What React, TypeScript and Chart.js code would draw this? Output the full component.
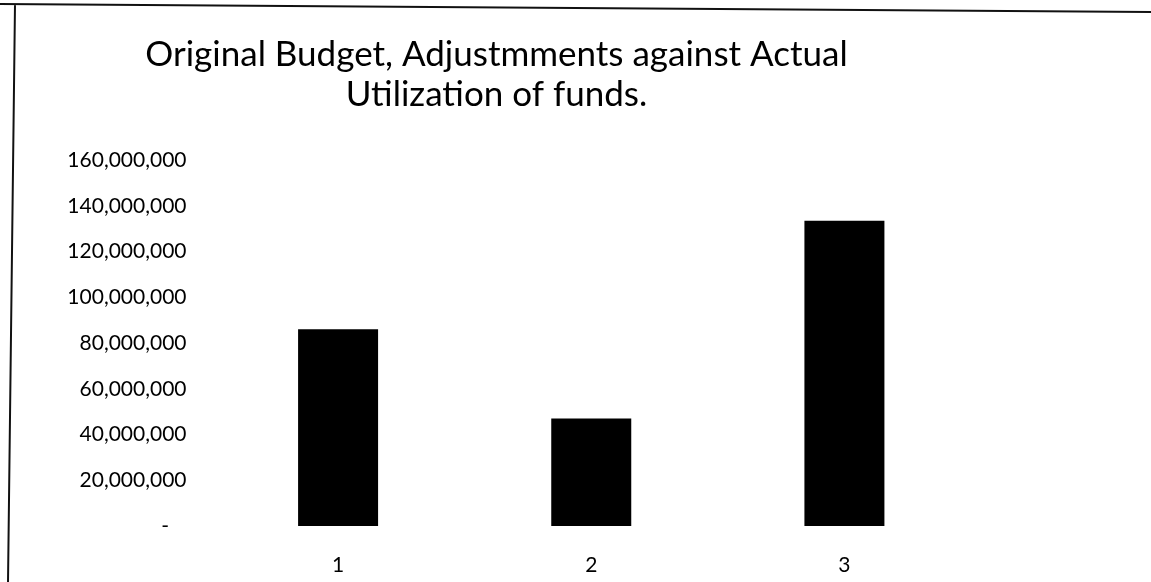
import React, { useEffect, useRef } from "react";
import { Chart, registerables } from "chart.js";

Chart.register(...registerables);

const titleLines = ["Original Budget, Adjustmments against Actual", "Utilization of funds."];
const categories = ["1", "2", "3"];
const amounts = [86000000, 47000000, 133500000];
const yMin = 0;
const yMax = 160000000;
const yStep = 20000000;

const FONT = "Lato, 'Open Sans', sans-serif";

const borderPlugin = {
  id: "scanBorder",
  afterDraw(chart: any) {
    const ctx = chart.ctx;
    ctx.save();
    ctx.strokeStyle = "#111";
    ctx.lineWidth = 2;
    ctx.beginPath();
    ctx.moveTo(0, 4);
    ctx.lineTo(chart.width, 12);
    ctx.moveTo(15, 4);
    ctx.lineTo(8, chart.height);
    ctx.stroke();
    ctx.restore();
  },
};

export default function App() {
  const ref = useRef<HTMLCanvasElement | null>(null);
  useEffect(() => {
    document.body.style.margin = "0";
    const canvas = ref.current!;
    const chart = new Chart(canvas, {
      type: "bar",
      data: {
        labels: categories,
        datasets: [
          {
            data: amounts,
            backgroundColor: "#000",
            borderWidth: 0,
            barPercentage: 0.316,
            categoryPercentage: 1,
          },
        ],
      },
      options: {
        responsive: false,
        animation: false,
        devicePixelRatio: 1,
        layout: { padding: { left: 22, right: 180, top: 0, bottom: 0 } },
        plugins: {
          legend: { display: false },
          tooltip: { enabled: false },
          title: {
            display: true,
            text: titleLines,
            color: "#000",
            font: { family: FONT, size: 35, weight: "normal", lineHeight: 1.143 },
            padding: { top: 35, bottom: 45 },
          },
        },
        scales: {
          x: {
            grid: { display: false, drawTicks: false },
            border: { display: false },
            ticks: { color: "#000", font: { family: FONT, size: 21 }, padding: 27 },
            afterFit(scale: any) {
              scale.height = 56;
            },
          },
          y: {
            min: yMin,
            max: yMax,
            grid: { display: false, drawTicks: false },
            border: { display: false },
            ticks: {
              stepSize: yStep,
              color: "#000",
              font: { family: FONT, size: 21 },
              padding: 25,
              callback: (v: any) =>
                Number(v) === 0 ? "-\u2007 " : Number(v).toLocaleString("en-US"),
            },
            afterFit(scale: any) {
              scale.width = 189.5;
            },
          },
        },
      },
      plugins: [borderPlugin],
    });
    return () => chart.destroy();
  }, []);
  return (
    <div style={{ width: 1151, height: 582, background: "#fff" }}>
      <canvas ref={ref} width={1151} height={582} style={{ display: "block" }} />
    </div>
  );
}
